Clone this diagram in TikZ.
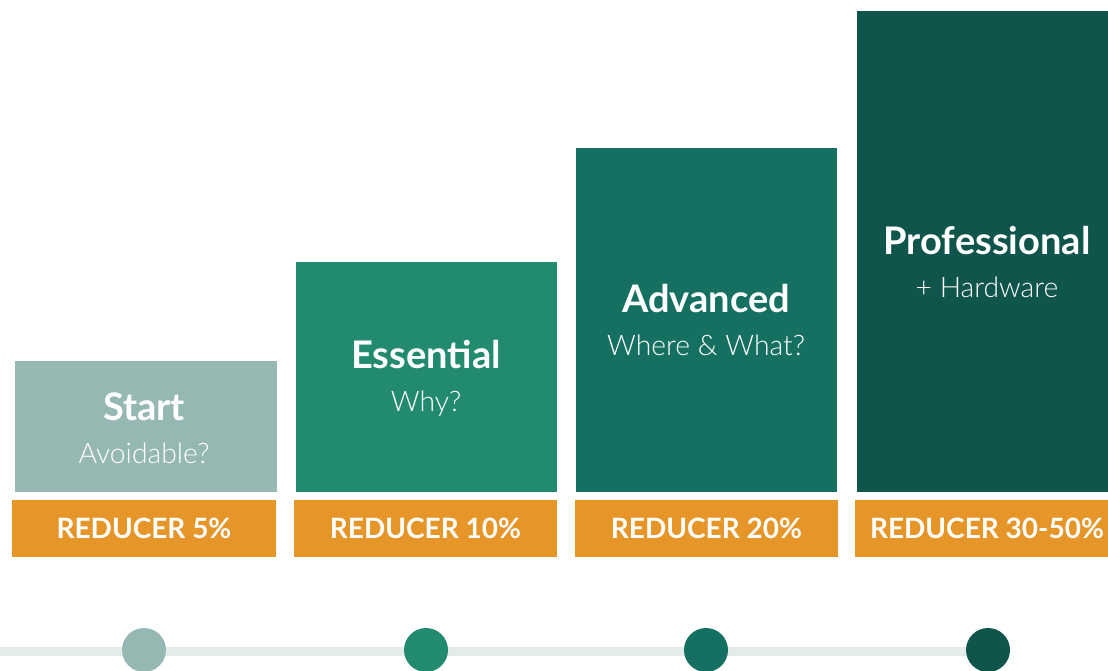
\documentclass[tikz,border=0pt]{standalone}
\usepackage{fontspec}
\setmainfont{Lato}
\newfontfamily\lightfont{Lato Light}
\definecolor{colstart}{HTML}{95B8B3}
\definecolor{colessential}{HTML}{218A6F}
\definecolor{coladvanced}{HTML}{167061}
\definecolor{colpro}{HTML}{10554B}
\definecolor{colorange}{HTML}{E69528}
\definecolor{colline}{HTML}{E3ECEA}
\tikzset{
  bar/.style={rectangle, inner sep=0, anchor=north west},
  tag/.style={rectangle, inner sep=0, anchor=north west, fill=colorange},
  title/.style={anchor=base, text=white, font=\fontsize{38}{45}\selectfont\bfseries},
  subtitle/.style={anchor=base, text=white, font=\fontsize{28.3}{34}\selectfont\lightfont},
  tagtext/.style={anchor=base, text=white, font=\fontsize{28}{34}\selectfont\bfseries},
  dot/.style={circle, inner sep=0, minimum size=44pt}
}

\begin{document}
\begin{tikzpicture}[x=1pt, y=-1pt]
  \useasboundingbox (0,0) rectangle (1108,671);

  % Bars
  \node[bar, fill=colstart, minimum width=262pt, minimum height=131pt] (start) at (15,361) {};
  \node[bar, fill=colessential, minimum width=261pt, minimum height=230pt] (essential) at (296,262) {};
  \node[bar, fill=coladvanced, minimum width=261pt, minimum height=344pt] (advanced) at (576,148) {};
  \node[bar, fill=colpro, minimum width=251pt, minimum height=481pt] (pro) at (857,11) {};

  % Bar titles
  \node[title] (starttitle) at (144,420) {Start};
  \node[subtitle] (startsub) at (144,463) {Avoidable?};
  \node[title] (essentialtitle) at (426,368) {Essential};
  \node[subtitle] (essentialsub) at (426,411) {Why?};
  \node[title] (advancedtitle) at (706,312) {Advanced};
  \node[subtitle] (advancedsub) at (706,355) {Where \& What?};
  \node[title] (protitle) at (987,254) {Professional};
  \node[subtitle] (prosub) at (987,297) {+ Hardware};

  % Reducer tags
  \node[tag, minimum width=264pt, minimum height=57pt] (starttag) at (12,500) {};
  \node[tag, minimum width=263pt, minimum height=57pt] (essentialtag) at (294,500) {};
  \node[tag, minimum width=263pt, minimum height=57pt] (advancedtag) at (575,500) {};
  \node[tag, minimum width=253pt, minimum height=57pt] (protag) at (855,500) {};
  \node[tagtext] at (144,538) {REDUCER 5\%};
  \node[tagtext] at (425.5,538) {REDUCER 10\%};
  \node[tagtext] at (706.5,538) {REDUCER 20\%};
  \node[tagtext] at (987,538) {REDUCER 30-50\%};

  % Timeline
  \coordinate (linestart) at (0,651.5);
  \node[dot] (dotstart) at (144,650) {};
  \node[dot] (dotessential) at (426,650) {};
  \node[dot] (dotadvanced) at (706,650) {};
  \node[dot] (dotpro) at (988,650) {};
  \draw[colline, line width=9pt] (linestart) -- (linestart -| dotpro.center);
  \fill[colstart] (dotstart) circle (22);
  \fill[colessential] (dotessential) circle (22);
  \fill[coladvanced] (dotadvanced) circle (22);
  \fill[colpro] (dotpro) circle (22);
\end{tikzpicture}
\end{document}
